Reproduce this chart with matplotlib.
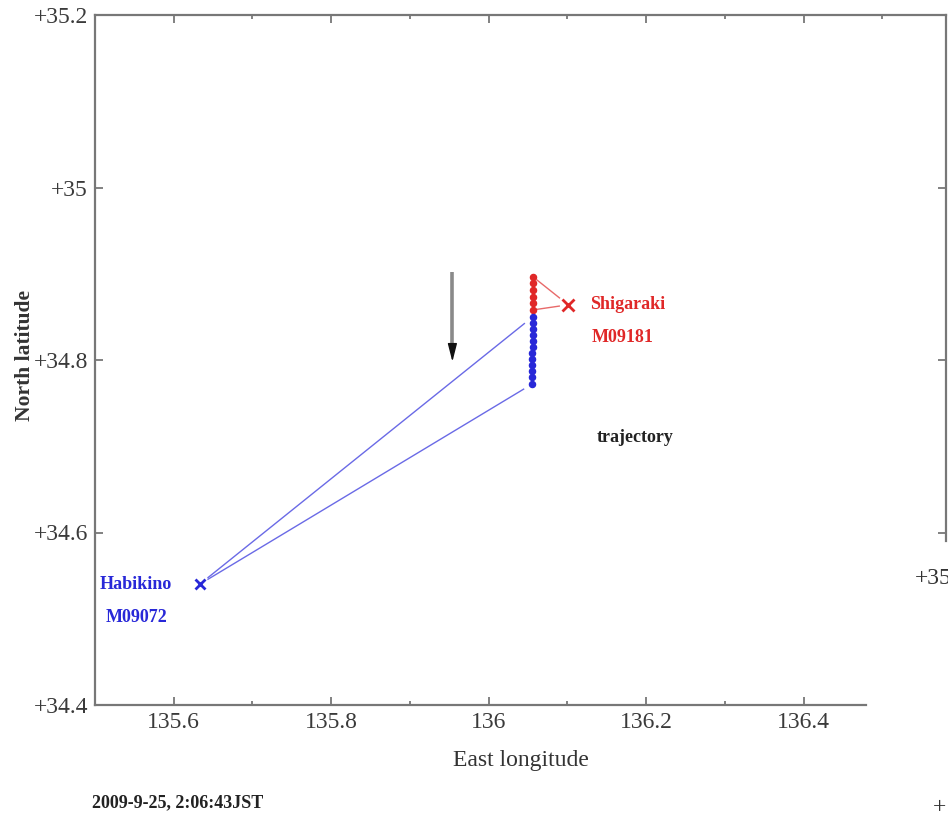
import matplotlib.pyplot as plt
from matplotlib.ticker import MultipleLocator, FixedLocator, FuncFormatter

plt.rcParams['font.family'] = ['Liberation Serif', 'DejaVu Serif']

## station positions (lon, lat)
habikino = (135.633, 34.540)
shigaraki = (136.101, 34.864)

## meteor trajectory points seen from Shigaraki (red) and Habikino (blue)
red_lon = [136.057, 136.057, 136.056, 136.056, 136.056, 136.056]
red_lat = [34.896, 34.889, 34.881, 34.873, 34.866, 34.858]
blue_lon = [136.056, 136.056, 136.056, 136.056, 136.056, 136.056,
            136.055, 136.055, 136.055, 136.055, 136.055, 136.055]
blue_lat = [34.850, 34.843, 34.836, 34.829, 34.822, 34.815,
            34.808, 34.801, 34.794, 34.787, 34.780, 34.772]

## direction of motion arrow (lon, lat_start, lat_end)
arrow_lon = 135.954
arrow_lat = (34.902, 34.798)

x_ticks = [135.6, 135.8, 136.0, 136.2, 136.4]
x_minor = [135.7, 135.9, 136.1, 136.3]
y_ticks = [34.4, 34.6, 34.8, 35.0, 35.2]

red = '#e02828'
blue = '#2828d8'
frame = '#777777'

fig = plt.figure(figsize=(9.48, 8.16), dpi=100)
ax = fig.add_axes([95/948, 111/816, 851/948, 690/816])
ax.set_xlim(135.5, 136.581)
ax.set_ylim(34.4, 35.2)


def part(p0, p1, a, b):
    # piece of the segment p0->p1 between fractions a and b
    xs = [p0[0] + a*(p1[0]-p0[0]), p0[0] + b*(p1[0]-p0[0])]
    ys = [p0[1] + a*(p1[1]-p0[1]), p0[1] + b*(p1[1]-p0[1])]
    return xs, ys


# lines of sight from the stations
for lon, lat in [(blue_lon[0], blue_lat[0]), (blue_lon[-1], blue_lat[-1])]:
    xs, ys = part(habikino, (lon, lat), 0.025, 0.975)
    ax.plot(xs, ys, color='#6a6ae6', lw=1.0)
for lon, lat in [(red_lon[0], red_lat[0]), (red_lon[-1], red_lat[-1])]:
    xs, ys = part(shigaraki, (lon, lat), 0.25, 0.9)
    ax.plot(xs, ys, color='#e86a6a', lw=1.0)

ax.plot(red_lon, red_lat, 'o', color=red, ms=4.4, mec=red)
ax.plot(blue_lon, blue_lat, 'o', color=blue, ms=4.4, mec=blue)

ax.plot(*shigaraki, marker='x', color=red, ms=8, mew=2)
ax.plot(*habikino, marker='x', color=blue, ms=6.5, mew=2)

# gray shaft, black head
ax.plot([arrow_lon, arrow_lon], [arrow_lat[0], arrow_lat[1] + 0.015],
        color='#8a8a8a', lw=2.6, solid_capstyle='butt')
ax.annotate('', xy=(arrow_lon, arrow_lat[1]),
            xytext=(arrow_lon, arrow_lat[1] + 0.02),
            arrowprops=dict(arrowstyle='-|>,head_width=0.28,head_length=1.1',
                            color='#111111', lw=1.0, shrinkA=0, shrinkB=0))

lab = dict(fontsize=13, fontweight='bold', va='center')
ax.text(136.129, 34.864, 'Shigaraki', color=red, ha='left', **lab)
ax.text(136.131, 34.826, 'M09181', color=red, ha='left', **lab)
ax.text(135.506, 34.540, 'Habikino', color=blue, ha='left', **lab)
ax.text(135.513, 34.502, 'M09072', color=blue, ha='left', **lab)
ax.text(136.137, 34.710, 'trajectory', color='#222222', ha='left', **lab)

# frame
for side in ['left', 'top', 'bottom']:
    ax.spines[side].set_color(frame)
    ax.spines[side].set_linewidth(1.6)
ax.spines['right'].set_visible(False)
ax.spines['bottom'].set_bounds(135.5, 136.48)

ax.set_xticks(x_ticks)
ax.set_yticks(y_ticks)
ax.xaxis.set_minor_locator(FixedLocator(x_minor))
ax.xaxis.set_major_formatter(FuncFormatter(lambda v, p: '%g' % round(v, 1)))
ax.yaxis.set_major_formatter(FuncFormatter(lambda v, p: '+%g' % round(v, 1)))
ax.tick_params(axis='both', which='both', direction='in', color=frame,
               labelcolor='#3a3a3a', labelsize=17, pad=5)
ax.tick_params(which='major', length=6, width=1.3)
ax.tick_params(which='minor', length=3, width=1.3)

# top edge carries ticks all the way across
top = ax.secondary_xaxis('top')
top.set_xticks(x_ticks)
top.xaxis.set_minor_locator(MultipleLocator(0.1))
top.tick_params(which='both', direction='in', color=frame, labeltop=False)
top.tick_params(which='major', length=6, width=1.3)
top.tick_params(which='minor', length=3, width=1.3)
top.spines['top'].set_visible(False)

# right edge of the frame only reaches part way down
ax2 = ax.twinx()
ax2.set_ylim(ax.get_ylim())
ax2.set_yticks([34.6, 34.8, 35.0])
ax2.tick_params(axis='y', direction='in', length=6, width=1.3, color=frame,
                labelright=False)
for side in ['left', 'top', 'bottom']:
    ax2.spines[side].set_visible(False)
ax2.spines['right'].set_color(frame)
ax2.spines['right'].set_linewidth(1.6)
ax2.spines['right'].set_bounds(34.59, 35.2)

ax.set_xlabel('East longitude', fontsize=17, color='#333333')
ax.xaxis.set_label_coords(0.5, -0.08)
ax.xaxis.label.set_va('center')
ax.set_ylabel('North latitude', fontsize=15.5, fontweight='bold', color='#333333')
ax.yaxis.set_label_coords(-0.082, 0.507)
ax.yaxis.label.set_va('center')

fig.text(92/948, 1 - 803/816, '2009-9-25, 2:06:43JST', fontsize=13,
         fontweight='bold', ha='left', va='center', color='#222222')
fig.text(915/948, 1 - 578/816, '+35', fontsize=17, ha='left', va='center',
         color='#333333')
fig.text(940/948, 1 - 808/816, '+', fontsize=17, ha='center', va='center',
         color='#333333')

fig.savefig('out.png', dpi=100)
